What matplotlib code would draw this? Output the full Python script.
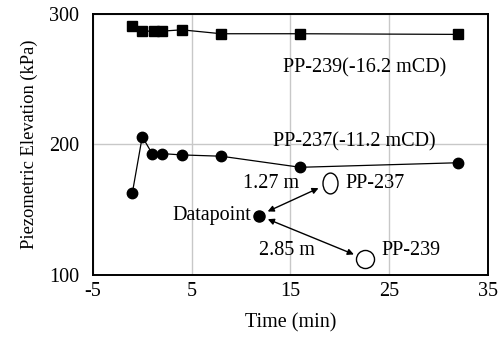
import matplotlib.pyplot as plt
from matplotlib.path import Path
from matplotlib.transforms import Affine2D

plt.rcParams['font.family'] = ['Liberation Serif', 'DejaVu Serif']
plt.rcParams['axes.unicode_minus'] = False

# PP-239 (-16.2 mCD)
t_239 = [-1, 0, 1.2, 2, 4, 8, 16, 32]
p_239 = [291, 287, 287, 287, 288, 285, 285, 284.5]

# PP-237 (-11.2 mCD)
t_237 = [-1, 0, 1, 2, 4, 8, 16, 32]
p_237 = [163, 206, 193, 193, 192, 191, 182.5, 186]

# sketch of datapoint and piezometer locations
datapoint = (11.8, 145.5)
loc_237 = (19.0, 170.5)
loc_239 = (22.6, 112)

fig, ax = plt.subplots(figsize=(5.02, 3.38), dpi=100)
fig.subplots_adjust(left=0.185, right=0.972, top=0.958, bottom=0.187)

ax.plot(t_239, p_239, color='black', lw=0.9, marker='s', ms=7.5)
ax.plot(t_237, p_237, color='black', lw=0.9, marker='o', ms=7.5)

ellipse = Path.unit_circle().transformed(Affine2D().scale(0.72, 1.0))
ax.plot(*loc_237, marker=ellipse, ms=15, mfc='white', mec='black', mew=1.0)
ax.plot(*loc_239, marker='o', ms=13, mfc='white', mec='black', mew=1.0)
ax.plot(*datapoint, marker='o', ms=8, color='black')

arrow = dict(arrowstyle='<|-|>', color='black', lw=1.0,
             mutation_scale=9, shrinkA=7, shrinkB=9)
ax.annotate('', xy=loc_237, xytext=datapoint, arrowprops=arrow)
ax.annotate('', xy=loc_239, xytext=datapoint, arrowprops=arrow)

fs = 14.5
ax.text(14.2, 259, 'PP-239(-16.2 mCD)', fontsize=fs, va='center')
ax.text(13.2, 202, 'PP-237(-11.2 mCD)', fontsize=fs, va='center')
ax.text(10.2, 170, '1.27 m', fontsize=fs, va='center')
ax.text(20.6, 170, 'PP-237', fontsize=fs, va='center')
ax.text(11.0, 145.5, 'Datapoint', fontsize=fs, va='center', ha='right')
ax.text(11.8, 119, '2.85 m', fontsize=fs, va='center')
ax.text(24.2, 119, 'PP-239', fontsize=fs, va='center')

ax.set_xlim(-5, 35)
ax.set_ylim(100, 300)
ax.set_xticks([-5, 5, 15, 25, 35])
ax.set_yticks([100, 200, 300])
ax.grid(True, color='#c8c8c8', lw=1.0)
ax.set_axisbelow(True)
ax.tick_params(length=0, labelsize=fs)
ax.tick_params(axis='y', pad=10)
ax.tick_params(axis='x', pad=5)
for s in ax.spines.values():
    s.set_linewidth(1.4)

ax.set_xlabel('Time (min)', fontsize=fs, labelpad=9)
ax.set_ylabel('Piezometric Elevation (kPa)', fontsize=13.3, labelpad=8)

fig.savefig('out.png', dpi=100)
